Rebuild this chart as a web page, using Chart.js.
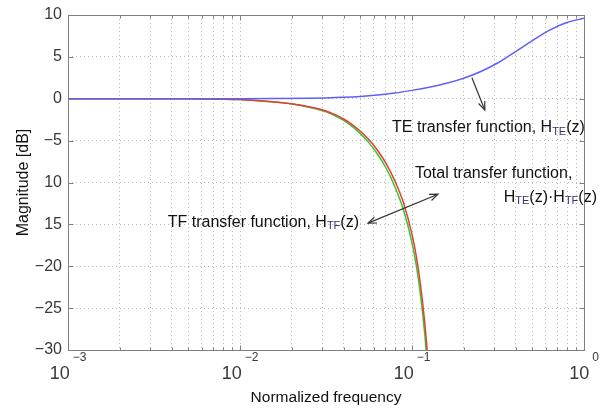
<!DOCTYPE html>
<html>
<head>
<meta charset="utf-8">
<script src="https://cdn.jsdelivr.net/npm/chart.js@4.4.1/dist/chart.umd.min.js"></script>
<style>
  html, body { margin: 0; padding: 0; background: #fff; }
</style>
</head>
<body>
<canvas id="magChart" width="613" height="413"></canvas>
<script>
// TE transfer function (blue)
var teFreq = [0.001, 0.01, 0.01585, 0.02512, 0.03162, 0.03981, 0.05012, 0.0631, 0.07943, 0.1, 0.1259, 0.1585, 0.1995, 0.2512, 0.3162, 0.3981, 0.5012, 0.631, 0.7943, 1];
var teDb   = [0, 0, 0.02, 0.06, 0.1, 0.17, 0.28, 0.45, 0.68, 1.0, 1.38, 1.85, 2.45, 3.25, 4.3, 5.6, 6.95, 8.2, 9.1, 9.6];

// TF and total transfer functions (green / red)
var tfFreq  = [0.001, 0.005, 0.008, 0.01, 0.01259, 0.01585, 0.01995, 0.02512, 0.02818, 0.03162, 0.03548, 0.03981, 0.04467, 0.05012, 0.05623, 0.0631, 0.07079, 0.07943, 0.08913, 0.1, 0.1059, 0.1122, 0.1189, 0.1259, 0.1334];
var totalDb = [0, -0.01, -0.05, -0.1, -0.22, -0.38, -0.6, -0.95, -1.17, -1.47, -1.87, -2.39, -3.05, -3.88, -4.91, -6.18, -7.74, -9.8, -12.4, -16.2, -18.8, -22.3, -27.0, -33.0, -40.0];
var tfDb    = [0, -0.01, -0.05, -0.1, -0.23, -0.4, -0.64, -1.01, -1.25, -1.57, -2.0, -2.56, -3.27, -4.16, -5.27, -6.63, -8.3, -10.48, -13.23, -17.2, -19.89, -23.5, -28.3, -34.4, -41.5];

// axes
var xDecades = [0.001, 0.01, 0.1, 1];
var xExponents = ["\u22123", "\u22122", "\u22121", "0"];
var xMantissa = [1, 2, 3, 4, 5, 6, 7, 8, 9];
var yTickValues = [10, 5, 0, -5, -10, -15, -20, -25, -30];
var yTickLabels = ["10", "5", "0", "\u22125", "10", "15", "\u221220", "\u221225", "\u221230"];

var xGridValues = [];
for (var d = 0; d < xDecades.length - 1; d++) {
  for (var m = 0; m < xMantissa.length; m++) {
    xGridValues.push(+(xDecades[d] * xMantissa[m]).toPrecision(3));
  }
}
xGridValues.push(1);

function pts(xs, ys) {
  var out = [];
  for (var i = 0; i < xs.length; i++) out.push({x: xs[i], y: ys[i]});
  return out;
}

var FONT = '"Liberation Sans", Arial, sans-serif';

// text pieces: [text, isSubscript]
function richWidth(ctx, parts, size) {
  var w = 0;
  parts.forEach(function (p) {
    ctx.font = (p[1] ? Math.round(size * 0.68) : size) + 'px ' + FONT;
    w += ctx.measureText(p[0]).width;
  });
  return w;
}
function drawRich(ctx, parts, x, y, size, align) {
  var w = richWidth(ctx, parts, size);
  var cx = align === 'right' ? x - w : x;
  ctx.textAlign = 'left';
  ctx.textBaseline = 'middle';
  parts.forEach(function (p) {
    if (p[1]) {
      ctx.font = Math.round(size * 0.68) + 'px ' + FONT;
      ctx.fillStyle = '#3d2f6e';
      ctx.fillText(p[0], cx, y + size * 0.22);
    } else {
      ctx.font = size + 'px ' + FONT;
      ctx.fillStyle = '#111';
      ctx.fillText(p[0], cx, y);
    }
    cx += ctx.measureText(p[0]).width;
  });
}

function arrowHead(ctx, x1, y1, x2, y2) {
  var a = Math.atan2(y2 - y1, x2 - x1), L = 9, s = 0.38;
  ctx.beginPath();
  ctx.moveTo(x2 - L * Math.cos(a - s), y2 - L * Math.sin(a - s));
  ctx.lineTo(x2, y2);
  ctx.lineTo(x2 - L * Math.cos(a + s), y2 - L * Math.sin(a + s));
  ctx.stroke();
}

var decorPlugin = {
  id: 'decor',
  afterDraw: function (chart) {
    var ctx = chart.ctx, a = chart.chartArea;
    var xs = chart.scales.x, ys = chart.scales.y;
    var L = Math.round(a.left) + 0.5, R = Math.round(a.right) + 0.5;
    var T = Math.round(a.top) + 0.5, B = Math.round(a.bottom) + 0.5;
    ctx.save();

    // box + tick marks
    ctx.strokeStyle = '#808080';
    ctx.lineWidth = 1;
    ctx.strokeRect(L, T, R - L, B - T);
    ctx.beginPath();
    xGridValues.forEach(function (v) {
      var px = Math.round(xs.getPixelForValue(v)) + 0.5;
      var major = xDecades.indexOf(v) >= 0;
      var len = major ? 5 : 3;
      ctx.moveTo(px, B); ctx.lineTo(px, B - len);
      ctx.moveTo(px, T); ctx.lineTo(px, T + len);
    });
    yTickValues.forEach(function (v) {
      var py = Math.round(ys.getPixelForValue(v)) + 0.5;
      ctx.moveTo(L, py); ctx.lineTo(L + 5, py);
      ctx.moveTo(R, py); ctx.lineTo(R - 5, py);
    });
    ctx.stroke();

    // y tick labels
    ctx.fillStyle = '#3a3a3a';
    ctx.font = '16px ' + FONT;
    ctx.textAlign = 'right';
    ctx.textBaseline = 'middle';
    yTickValues.forEach(function (v, i) {
      ctx.fillText(yTickLabels[i], a.left - 6, ys.getPixelForValue(v));
    });

    // x tick labels 10^n
    xDecades.forEach(function (v, i) {
      var px = xs.getPixelForValue(v);
      ctx.font = '18px ' + FONT;
      var w1 = ctx.measureText('10').width;
      ctx.font = '12px ' + FONT;
      var w2 = ctx.measureText(xExponents[i]).width;
      var start = px - (w1 + w2 + 3) / 2;
      ctx.textAlign = 'left';
      ctx.textBaseline = 'middle';
      ctx.font = '18px ' + FONT;
      ctx.fillText('10', start, a.bottom + 24);
      ctx.font = '12px ' + FONT;
      ctx.fillText(xExponents[i], start + w1 + 3, a.bottom + 8);
    });

    // axis titles
    ctx.fillStyle = '#111';
    ctx.font = '15.5px ' + FONT;
    ctx.textAlign = 'center';
    ctx.textBaseline = 'middle';
    ctx.fillText('Normalized frequency', (a.left + a.right) / 2, 398);
    ctx.save();
    ctx.translate(24, (a.top + a.bottom) / 2);
    ctx.rotate(-Math.PI / 2);
    ctx.font = '16px ' + FONT;
    ctx.fillText('Magnitude [dB]', 0, 0);
    ctx.restore();

    // annotations (anchored in data coordinates)
    function P(f, db) { return [xs.getPixelForValue(f), ys.getPixelForValue(db)]; }
    drawRich(ctx, [['TE transfer function, H', 0], ['TE', 1], ['(z)', 0]], P(0.0766, 0)[0], P(0.0766, -3.5)[1], 16, 'left');
    drawRich(ctx, [['Total transfer function,', 0]], P(0.104, 0)[0], P(0.104, -8.9)[1], 16, 'left');
    drawRich(ctx, [['H', 0], ['TE', 1], ['(z)\u00b7H', 0], ['TF', 1], ['(z)', 0]], P(1.19, 0)[0], P(1.19, -11.75)[1], 16, 'right');
    drawRich(ctx, [['TF transfer function, H', 0], ['TF', 1], ['(z)', 0]], P(0.0038, 0)[0], P(0.0038, -14.8)[1], 16, 'left');

    ctx.strokeStyle = '#333';
    ctx.lineWidth = 1.2;
    var a1 = P(0.223, 2.5), a2 = P(0.265, -1.35);
    ctx.beginPath(); ctx.moveTo(a1[0], a1[1]); ctx.lineTo(a2[0], a2[1]); ctx.stroke();
    arrowHead(ctx, a1[0], a1[1], a2[0], a2[1]);
    var b1 = P(0.0555, -14.85), b2 = P(0.1416, -11.4);
    ctx.beginPath(); ctx.moveTo(b1[0], b1[1]); ctx.lineTo(b2[0], b2[1]); ctx.stroke();
    arrowHead(ctx, b2[0], b2[1], b1[0], b1[1]);
    arrowHead(ctx, b1[0], b1[1], b2[0], b2[1]);

    ctx.restore();
  }
};

var gridStyle = {color: '#b8b8b8', lineWidth: 1, drawTicks: false};

new Chart(document.getElementById('magChart'), {
  type: 'line',
  data: {
    datasets: [
      {label: 'TE transfer function', data: pts(teFreq, teDb), borderColor: 'rgb(95,95,250)'},
      {label: 'Total transfer function', data: pts(tfFreq, totalDb), borderColor: 'rgb(235,60,50)'},
      {label: 'TF transfer function', data: pts(tfFreq, tfDb), borderColor: 'rgb(50,200,50)'}
    ]
  },
  options: {
    responsive: false,
    animation: false,
    layout: {padding: {left: 68, right: 29, top: 15, bottom: 63}},
    plugins: {legend: {display: false}, tooltip: {enabled: false}},
    elements: {
      point: {radius: 0},
      line: {borderWidth: 1.5, cubicInterpolationMode: 'monotone', fill: false}
    },
    scales: {
      x: {
        type: 'logarithmic', min: 0.001, max: 1,
        afterBuildTicks: function (s) { s.ticks = xGridValues.map(function (v) { return {value: v}; }); },
        ticks: {display: false},
        grid: gridStyle,
        border: {display: false, dash: [1, 3]}
      },
      y: {
        type: 'linear', min: -30, max: 10,
        afterBuildTicks: function (s) { s.ticks = yTickValues.map(function (v) { return {value: v}; }); },
        ticks: {display: false},
        grid: gridStyle,
        border: {display: false, dash: [1, 3]}
      }
    }
  },
  plugins: [decorPlugin]
});
</script>
</body>
</html>
